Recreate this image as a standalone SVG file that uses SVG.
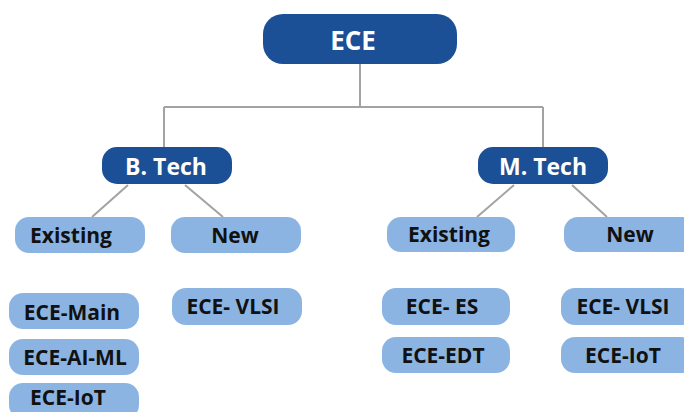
<svg xmlns="http://www.w3.org/2000/svg" width="684" height="412" viewBox="0 0 684 412">
<style>
.dark{fill:#1b4f96}
.light{fill:#8cb4e2}
.tw{font-family:"Open Sans","Noto Sans",sans-serif;font-weight:700;fill:#ffffff;text-anchor:middle;dominant-baseline:central}
.tb{font-family:"Open Sans","Noto Sans",sans-serif;font-weight:700;fill:#111111;text-anchor:middle;dominant-baseline:central;font-size:21px}
.conn{stroke:#a3a3a3;stroke-width:2;fill:none}
</style>
<rect width="684" height="412" fill="#ffffff"/>
<g id="connectors">
<path class="conn" d="M360 64 V107 M164 107 H543 M164 107 V147 M543 107 V147"/>
<path class="conn" d="M128 185 L92 217 M185 185 L223 217"/>
<path class="conn" d="M514 185 L477 217 M572 185 L607 217"/>
</g>
<g id="ece"><rect class="dark" x="263" y="14" width="194" height="50" rx="20"/><text class="tw" x="353" y="40" font-size="26">ECE</text></g>
<g id="btech"><rect class="dark" x="102" y="147" width="130" height="37" rx="15"/><text class="tw" x="166" y="166" font-size="23">B. Tech</text></g>
<g id="mtech"><rect class="dark" x="478" y="147" width="130" height="37" rx="15"/><text class="tw" x="543" y="166" font-size="23">M. Tech</text></g>
<g id="b-existing"><rect class="light" x="15" y="217" width="130" height="36" rx="14"/><text class="tb" x="71" y="235">Existing</text></g>
<g id="b-new"><rect class="light" x="171" y="217" width="130" height="36" rx="14"/><text class="tb" x="235" y="235">New</text></g>
<g id="m-existing"><rect class="light" x="387" y="217" width="128" height="35" rx="14"/><text class="tb" x="449" y="234">Existing</text></g>
<g id="m-new"><rect class="light" x="564" y="217" width="134" height="35" rx="14"/><text class="tb" x="630" y="234">New</text></g>
<g id="b-main"><rect class="light" x="9" y="293" width="130" height="36" rx="14"/><text class="tb" x="72" y="312">ECE-Main</text></g>
<g id="b-aiml"><rect class="light" x="9" y="339" width="130" height="36" rx="14"/><text class="tb" x="75" y="357">ECE-AI-ML</text></g>
<g id="b-iot"><rect class="light" x="9" y="383" width="130" height="36" rx="14"/><text class="tb" x="68" y="397">ECE-IoT</text></g>
<g id="b-vlsi"><rect class="light" x="172" y="288" width="130" height="37" rx="14"/><text class="tb" x="233" y="306">ECE- VLSI</text></g>
<g id="m-es"><rect class="light" x="382" y="288" width="128" height="37" rx="14"/><text class="tb" x="442" y="306">ECE- ES</text></g>
<g id="m-edt"><rect class="light" x="382" y="337" width="128" height="36" rx="14"/><text class="tb" x="443" y="355">ECE-EDT</text></g>
<g id="m-vlsi"><rect class="light" x="561" y="288" width="134" height="37" rx="14"/><text class="tb" x="623" y="306">ECE- VLSI</text></g>
<g id="m-iot"><rect class="light" x="561" y="337" width="134" height="36" rx="14"/><text class="tb" x="623" y="355">ECE-IoT</text></g>
</svg>
